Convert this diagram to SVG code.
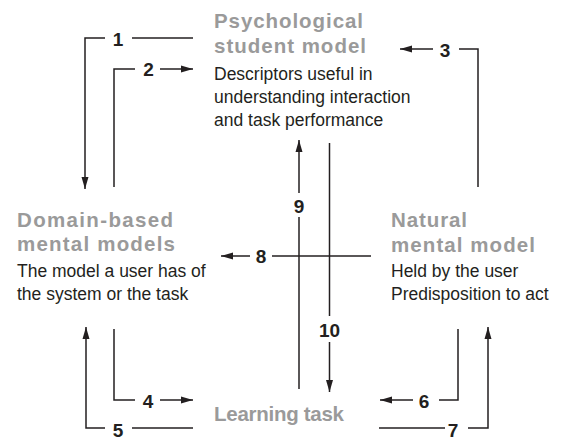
<svg xmlns="http://www.w3.org/2000/svg" width="563" height="437" viewBox="0 0 563 437">
  <style>
    .head { font-family: "Liberation Sans", Arial, sans-serif; font-weight: bold; font-size: 20.5px; fill: #9a9a9a; }
    .body { font-family: "Liberation Sans", Arial, sans-serif; font-size: 17.5px; fill: #231f20; }
    .num { font-family: "Liberation Sans", Arial, sans-serif; font-weight: bold; font-size: 19px; fill: #231f20; text-anchor: middle; }
    .ln { fill: none; stroke: #231f20; stroke-width: 1.5; }
    .arr { marker-end: url(#ah); }
  </style>
  <defs>
    <marker id="ah" markerUnits="userSpaceOnUse" markerWidth="12" markerHeight="8" refX="12" refY="4" orient="auto">
      <path d="M0,0.5 L12,4 L0,7.5 z" fill="#231f20"/>
    </marker>
  </defs>
  <rect width="563" height="437" fill="#ffffff"/>

  <g id="psychological-student-model">
    <text class="head" x="214" y="28" textLength="149" lengthAdjust="spacing">Psychological</text>
    <text class="head" x="214" y="53" textLength="152" lengthAdjust="spacing">student model</text>
    <text class="body" x="214" y="80">Descriptors useful in</text>
    <text class="body" x="214" y="103">understanding interaction</text>
    <text class="body" x="214" y="126">and task performance</text>
  </g>

  <g id="domain-based-mental-models">
    <text class="head" x="17" y="226.5" textLength="156" lengthAdjust="spacing">Domain-based</text>
    <text class="head" x="17" y="251" textLength="158" lengthAdjust="spacing">mental models</text>
    <text class="body" x="17" y="276.5">The model a user has of</text>
    <text class="body" x="17" y="300">the system or the task</text>
  </g>

  <g id="natural-mental-model">
    <text class="head" x="391" y="226.5" textLength="76" lengthAdjust="spacing">Natural</text>
    <text class="head" x="391" y="251.5" textLength="144" lengthAdjust="spacing">mental model</text>
    <text class="body" x="391" y="276.5">Held by the user</text>
    <text class="body" x="391" y="299.5">Predisposition to act</text>
  </g>

  <g id="learning-task">
    <text class="head" x="214" y="421" textLength="130" lengthAdjust="spacing">Learning task</text>
  </g>

  <g id="connectors">
    <!-- 1 -->
    <path class="ln" d="M193,38 H132"/>
    <path class="ln arr" d="M105,38 H85 V189"/>
    <text class="num" x="118" y="45.5">1</text>
    <!-- 2 -->
    <path class="ln" d="M114,187 V69 H135"/>
    <path class="ln arr" d="M160,69 H193"/>
    <text class="num" x="148.5" y="76">2</text>
    <!-- 3 -->
    <path class="ln" d="M478,187 V49 H459"/>
    <path class="ln arr" d="M433,49 H400"/>
    <text class="num" x="445" y="56.5">3</text>
    <!-- 4 -->
    <path class="ln" d="M114,329 V400 H135"/>
    <path class="ln arr" d="M160,400 H193"/>
    <text class="num" x="148" y="407.5">4</text>
    <!-- 5 -->
    <path class="ln arr" d="M105,428 H86 V327"/>
    <path class="ln" d="M132,428 H193"/>
    <text class="num" x="118" y="437">5</text>
    <!-- 6 -->
    <path class="ln" d="M458,329 V400 H439"/>
    <path class="ln arr" d="M413,400 H380"/>
    <text class="num" x="424" y="407.5">6</text>
    <!-- 7 -->
    <path class="ln arr" d="M468,428 H488 V327"/>
    <path class="ln" d="M445,428 H379"/>
    <text class="num" x="453" y="437">7</text>
    <!-- 8 -->
    <path class="ln" d="M371,256 H272"/>
    <path class="ln arr" d="M250,256 H221"/>
    <text class="num" x="261" y="262.5">8</text>
    <!-- 9 -->
    <path class="ln" d="M299,389 V217"/>
    <path class="ln arr" d="M299,193 V140"/>
    <text class="num" x="299" y="213">9</text>
    <!-- 10 -->
    <path class="ln" d="M329.5,143 V316"/>
    <path class="ln arr" d="M329.5,342 V392"/>
    <text class="num" x="329.5" y="337">10</text>
  </g>
</svg>
